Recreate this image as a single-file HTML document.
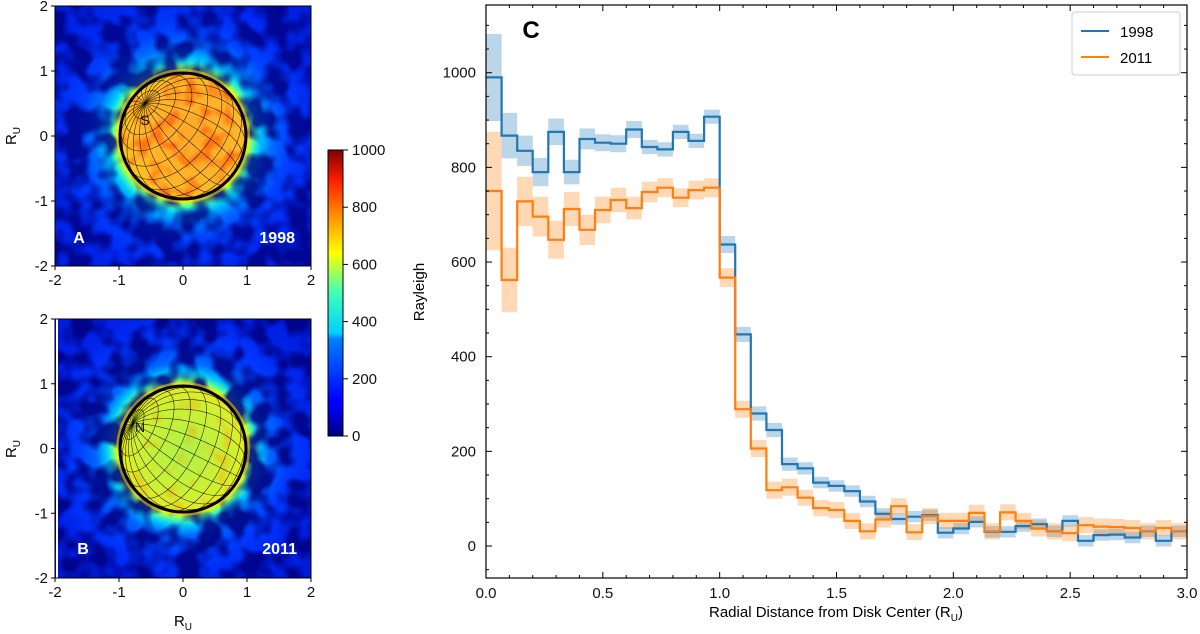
<!DOCTYPE html>
<html><head><meta charset="utf-8"><style>
html,body{margin:0;padding:0;background:#fff;}
svg{display:block;font-family:"Liberation Sans","DejaVu Sans",sans-serif;}
filter{color-interpolation-filters:sRGB;}
</style></head><body>
<svg id="fig" width="1200" height="634" viewBox="0 0 1200 634">
<defs>
 <radialGradient id="haloA" cx="183" cy="136" r="170" gradientUnits="userSpaceOnUse">
  <stop offset="0" stop-color="#ffff00"/>
  <stop offset="0.38" stop-color="#f0ff10"/>
  <stop offset="0.41" stop-color="#60ff90"/>
  <stop offset="0.45" stop-color="#00d0ff"/>
  <stop offset="0.52" stop-color="#0070ff"/>
  <stop offset="0.62" stop-color="#0040ff"/>
  <stop offset="0.8" stop-color="#0028f0"/>
  <stop offset="1" stop-color="#0020e0"/>
 </radialGradient>
 <radialGradient id="haloB" cx="183" cy="449" r="170" gradientUnits="userSpaceOnUse">
  <stop offset="0" stop-color="#ffff00"/>
  <stop offset="0.38" stop-color="#f0ff10"/>
  <stop offset="0.41" stop-color="#60ff90"/>
  <stop offset="0.45" stop-color="#00c8ff"/>
  <stop offset="0.51" stop-color="#0068ff"/>
  <stop offset="0.62" stop-color="#003cff"/>
  <stop offset="0.8" stop-color="#0024ec"/>
  <stop offset="1" stop-color="#001cd8"/>
 </radialGradient>
 <radialGradient id="diskA" cx="0.55" cy="0.5" r="0.6">
  <stop offset="0" stop-color="#ffa828"/>
  <stop offset="0.7" stop-color="#ffb82a"/>
  <stop offset="1" stop-color="#ffd010"/>
 </radialGradient>
 <radialGradient id="diskB" cx="0.5" cy="0.5" r="0.6">
  <stop offset="0" stop-color="#b0f048"/>
  <stop offset="0.7" stop-color="#d4f030"/>
  <stop offset="1" stop-color="#ffe000"/>
 </radialGradient>
 <linearGradient id="jet" x1="0" y1="1" x2="0" y2="0">
  <stop offset="0" stop-color="#00007f"/>
  <stop offset="0.11" stop-color="#0000ff"/>
  <stop offset="0.125" stop-color="#0000ff"/>
  <stop offset="0.34" stop-color="#0080ff"/>
  <stop offset="0.36" stop-color="#00d0ff"/>
  <stop offset="0.5" stop-color="#40ffb7"/>
  <stop offset="0.64" stop-color="#ffff00"/>
  <stop offset="0.77" stop-color="#ff9000"/>
  <stop offset="0.89" stop-color="#ff2000"/>
  <stop offset="1" stop-color="#7f0000"/>
 </linearGradient>
 <filter id="mottle" x="0" y="0" width="1" height="1" color-interpolation-filters="sRGB">
  <feTurbulence type="fractalNoise" baseFrequency="0.045" numOctaves="2" seed="3"/>
  <feColorMatrix type="matrix" values="0 0 0 0 0  0 0 0 0 0  0 0 0 0 0.5  0 0 0 -4 2.5"/>
 </filter>
 <filter id="mottle2" x="0" y="0" width="1" height="1" color-interpolation-filters="sRGB">
  <feTurbulence type="fractalNoise" baseFrequency="0.045" numOctaves="2" seed="11"/>
  <feColorMatrix type="matrix" values="0 0 0 0 0  0 0 0 0 0  0 0 0 0 0.5  0 0 0 -4 2.5"/>
 </filter>
 <filter id="blotch" x="0" y="0" width="1" height="1" color-interpolation-filters="sRGB">
  <feTurbulence type="fractalNoise" baseFrequency="0.06" numOctaves="2" seed="7"/>
  <feColorMatrix type="matrix" values="0 0 0 0 1  0 0 0 0 0.3  0 0 0 0 0  0 0 0 -4 2.1"/>
 </filter>
 <filter id="blotchB" x="0" y="0" width="1" height="1" color-interpolation-filters="sRGB">
  <feTurbulence type="fractalNoise" baseFrequency="0.06" numOctaves="2" seed="5"/>
  <feColorMatrix type="matrix" values="0 0 0 0 1  0 0 0 0 0.6  0 0 0 0 0  0 0 0 -4 1.8"/>
 </filter>
 <clipPath id="clipA"><rect x="55" y="6" width="256" height="260"/></clipPath>
 <clipPath id="clipB"><rect x="55" y="319" width="256" height="259"/></clipPath>
 <clipPath id="dcA"><circle cx="183" cy="136" r="63"/></clipPath>
 <clipPath id="dcB"><circle cx="183" cy="449" r="63"/></clipPath>
 <clipPath id="clipC"><rect x="486" y="5" width="701" height="573"/></clipPath>
</defs>

<!-- Panel A -->
<g>
 <g clip-path="url(#clipA)">
  <rect x="55" y="6" width="256" height="260" fill="url(#haloA)"/>
  <rect x="55" y="6" width="256" height="260" filter="url(#mottle)" opacity="0.8"/>
 </g>
 <circle cx="183" cy="136" r="67" fill="#ffe000" opacity="0.5"/>
 <circle cx="183" cy="136" r="63" fill="url(#diskA)"/>
 <g clip-path="url(#dcA)"><rect x="118" y="71" width="130" height="130" filter="url(#blotch)" opacity="0.6"/></g>
 <g id="gridA" clip-path="url(#dcA)"></g>
 <circle cx="183" cy="136" r="63" fill="none" stroke="#000" stroke-width="3"/>
 <text x="145" y="125" font-size="14" fill="#111" text-anchor="middle">S</text>
 <text x="79" y="243" font-size="16" font-weight="bold" fill="#fff" text-anchor="middle">A</text>
 <text x="295" y="243" font-size="16" font-weight="bold" fill="#fff" text-anchor="end">1998</text>
 <rect x="55" y="6" width="256" height="260" fill="none" stroke="#000" stroke-width="1"/>
 <g id="axA" font-size="15" fill="#111"></g>
 <text transform="translate(16,136) rotate(-90)" font-size="15" text-anchor="middle">R<tspan font-size="10" dy="4">U</tspan></text>
</g>

<!-- Panel B -->
<g>
 <g clip-path="url(#clipB)">
  <rect x="55" y="319" width="256" height="259" fill="url(#haloB)"/>
  <rect x="55" y="319" width="256" height="259" filter="url(#mottle2)" opacity="0.85"/>
  <rect x="56" y="319" width="2" height="259" fill="#fff"/>
 </g>
 <circle cx="183" cy="449" r="67" fill="#ffe000" opacity="0.5"/>
 <circle cx="183" cy="449" r="63" fill="url(#diskB)"/>
 <g clip-path="url(#dcB)"><rect x="118" y="384" width="130" height="130" filter="url(#blotchB)" opacity="0.4"/></g>
 <g id="gridB" clip-path="url(#dcB)"></g>
 <circle cx="183" cy="449" r="63" fill="none" stroke="#000" stroke-width="3"/>
 <text x="140" y="432" font-size="14" fill="#111" text-anchor="middle">N</text>
 <text x="83" y="554" font-size="16" font-weight="bold" fill="#fff" text-anchor="middle">B</text>
 <text x="297" y="554" font-size="16" font-weight="bold" fill="#fff" text-anchor="end">2011</text>
 <rect x="55" y="319" width="256" height="259" fill="none" stroke="#000" stroke-width="1"/>
 <g id="axB" font-size="15" fill="#111"></g>
 <text transform="translate(16,449) rotate(-90)" font-size="15" text-anchor="middle">R<tspan font-size="10" dy="4">U</tspan></text>
 <text x="183" y="626" font-size="15" text-anchor="middle">R<tspan font-size="10" dy="4">U</tspan></text>
</g>

<!-- Colorbar -->
<g>
 <rect x="328" y="150" width="15" height="286" fill="url(#jet)" stroke="#000" stroke-width="1"/>
 <g id="cbTicks" font-size="15" fill="#111"></g>
</g>

<!-- Panel C -->
<g>
 <g id="plotC" clip-path="url(#clipC)"></g>
 <rect x="486" y="5" width="701" height="573" fill="none" stroke="#000" stroke-width="1.2"/>
 <g id="axC" font-size="15" fill="#111"></g>
 <text x="531" y="38" font-size="24" font-weight="bold" text-anchor="middle">C</text>
 <text transform="translate(424,292) rotate(-90)" font-size="15" text-anchor="middle">Rayleigh</text>
 <text x="836" y="617" font-size="15" text-anchor="middle">Radial Distance from Disk Center (R<tspan font-size="10" dy="4">U</tspan><tspan dy="-4">)</tspan></text>
 <g>
  <rect x="1072" y="12" width="108" height="63" rx="3" fill="#fff" stroke="#ccc" stroke-width="1"/>
  <line x1="1081" y1="31" x2="1109" y2="31" stroke="#1f77b4" stroke-width="2"/>
  <text x="1120" y="37" font-size="15">1998</text>
  <line x1="1081" y1="57" x2="1109" y2="57" stroke="#ff7f0e" stroke-width="2"/>
  <text x="1120" y="63" font-size="15">2011</text>
 </g>
</g>
</svg>
<script>
// ---- Panel C data (45 radial bins of width 1/15 R_U) ----
const binWidth = 3/45;
const blue1998 = [990,867,835,790,875,790,860,852,850,880,843,838,875,856,907,
 637,447,280,245,173,164,134,127,116,94,68,57,62,65,28,37,51,30,30,42,46,31,53,11,23,24,18,31,11,31];
const blueErr = [92,48,32,30,28,26,22,18,18,18,15,15,15,15,15,
 18,16,15,15,14,13,12,12,12,12,12,12,12,12,12,12,12,12,12,12,12,12,12,12,12,12,12,12,12,12];
const orange2011 = [750,562,728,696,647,712,668,710,731,714,748,757,736,752,757,
 567,289,206,118,124,102,80,76,53,31,56,84,29,63,53,53,70,31,71,53,37,31,27,44,41,40,38,31,38,31];
const orangeErr = [125,68,52,42,40,36,32,28,26,24,22,20,20,20,20,
 20,18,18,18,18,17,17,17,17,17,17,17,17,17,17,17,17,17,17,17,17,17,17,17,17,17,17,17,17,17];
const yTicks = [0,200,400,600,800,1000];
const xTicks = [0.0,0.5,1.0,1.5,2.0,2.5,3.0];
const xTickLabels = ["0.0","0.5","1.0","1.5","2.0","2.5","3.0"];
const cbTicks = [0,200,400,600,800,1000];
const mapTicks = [-2,-1,0,1,2];

const NS='http://www.w3.org/2000/svg';
function mk(tag, attrs, parent){const e=document.createElementNS(NS,tag);for(const k in attrs)e.setAttribute(k,attrs[k]);parent.appendChild(e);return e;}

const X = v => 486 + v/3*701;
const Y = v => 546 - v*0.4733;

const plot = document.getElementById('plotC');
function stepPath(vals){
  let d='';
  vals.forEach((v,i)=>{const x0=X(i*binWidth),x1=X((i+1)*binWidth),y=Y(v);
    d += (i===0?'M':'L')+x0.toFixed(1)+','+y.toFixed(1)+'L'+x1.toFixed(1)+','+y.toFixed(1);});
  return d;
}
function bandPath(vals,err){
  let up='',dn='';
  vals.forEach((v,i)=>{const x0=X(i*binWidth),x1=X((i+1)*binWidth);
    up += (i===0?'M':'L')+x0.toFixed(1)+','+Y(v+err[i]).toFixed(1)+'L'+x1.toFixed(1)+','+Y(v+err[i]).toFixed(1);});
  for(let i=vals.length-1;i>=0;i--){const x0=X(i*binWidth),x1=X((i+1)*binWidth);
    dn += 'L'+x1.toFixed(1)+','+Y(vals[i]-err[i]).toFixed(1)+'L'+x0.toFixed(1)+','+Y(vals[i]-err[i]).toFixed(1);}
  return up+dn+'Z';
}
let e;
e = mk('path',{d:bandPath(blue1998,blueErr),fill:'#1f77b4','fill-opacity':'0.3'},plot);


e = mk('path',{d:bandPath(orange2011,orangeErr),fill:'#ff7f0e','fill-opacity':'0.3'},plot);


e = mk('path',{d:stepPath(blue1998),fill:'none',stroke:'#1f77b4','stroke-width':'2.2'},plot);


e = mk('path',{d:stepPath(orange2011),fill:'none',stroke:'#ff7f0e','stroke-width':'2.2'},plot);



const axC = document.getElementById('axC');
for(let v=-50; v<=1150; v+=50){const y=Y(v); if(y<5||y>578)continue;
  const L = (v%200===0)?6:3;
  mk('line',{x1:486,y1:y,x2:486+L,y2:y,stroke:'#000'},axC);
  mk('line',{x1:1187,y1:y,x2:1187-L,y2:y,stroke:'#000'},axC);}
yTicks.forEach(v=>{e=mk('text',{x:476,y:Y(v)+5,'text-anchor':'end'},axC);e.textContent=v;
  
  });
for(let v=0; v<=3.001; v+=0.1){const x=X(v); const major=Math.abs(v*2-Math.round(v*2))<1e-6; const L=major?6:3;
  mk('line',{x1:x,y1:578,x2:x,y2:578-L,stroke:'#000'},axC);
  mk('line',{x1:x,y1:5,x2:x,y2:5+L,stroke:'#000'},axC);}
xTicks.forEach((v,i)=>{e=mk('text',{x:X(v),y:598,'text-anchor':'middle'},axC);e.textContent=xTickLabels[i];
  
  });

const cb = document.getElementById('cbTicks');
cbTicks.forEach(v=>{const y=436-v/1000*286;
  mk('line',{x1:343,y1:y,x2:348,y2:y,stroke:'#000'},cb);
  e=mk('text',{x:352,y:y+5},cb);e.textContent=v;
  
  });

function mapAxes(id,x0,y0,w,h){
  const g=document.getElementById(id);
  mapTicks.forEach(v=>{
    const x=x0+(v+2)/4*w, y=y0+(2-v)/4*h;
    mk('line',{x1:x,y1:y0+h,x2:x,y2:y0+h+4,stroke:'#000'},g);
    mk('line',{x1:x0,y1:y,x2:x0-4,y2:y,stroke:'#000'},g);
    e=mk('text',{x:x,y:y0+h+19,'text-anchor':'middle'},g);e.textContent=v;
    
    
    e=mk('text',{x:x0-7,y:y+5,'text-anchor':'end'},g);e.textContent=v;
    
    
  });
}
mapAxes('axA',55,6,256,260);
mapAxes('axB',55,319,256,259);

function globe(id,cx,cy,R,px,py){
  const g=document.getElementById(id);
  const pz=Math.sqrt(Math.max(0,1-px*px-py*py));
  const P=[px,py,pz];
  let a=[0,0,1]; let u=[a[1]*P[2]-a[2]*P[1], a[2]*P[0]-a[0]*P[2], a[0]*P[1]-a[1]*P[0]];
  let n=Math.hypot(...u); u=u.map(t=>t/n);
  let v=[P[1]*u[2]-P[2]*u[1], P[2]*u[0]-P[0]*u[2], P[0]*u[1]-P[1]*u[0]];
  function pt(lat,lon){const cl=Math.cos(lat),sl=Math.sin(lat);
    return [0,1,2].map(k=>sl*P[k]+cl*(Math.cos(lon)*u[k]+Math.sin(lon)*v[k]));}
  function draw(pts){let d='',pen=false;
    pts.forEach(q=>{if(q[2]>=0){d+=(pen?'L':'M')+(cx+R*q[0]).toFixed(1)+','+(cy-R*q[1]).toFixed(1);pen=true;}else pen=false;});
    if(d) mk('path',{d:d,fill:'none',stroke:'#000','stroke-width':'0.6','stroke-opacity':'0.8'},g);}
  const D=Math.PI/180;
  for(let lat=-75;lat<=75;lat+=15){const pts=[];for(let lo=0;lo<=360;lo+=4)pts.push(pt(lat*D,lo*D));draw(pts);}
  for(let lo=0;lo<360;lo+=15){const pts=[];for(let la=-90;la<=90;la+=3)pts.push(pt(la*D,lo*D));draw(pts);}
}
globe('gridA',183,136,63,-0.6,0.52);
globe('gridB',183,449,63,-0.8,0.4);
</script>
</body></html>
